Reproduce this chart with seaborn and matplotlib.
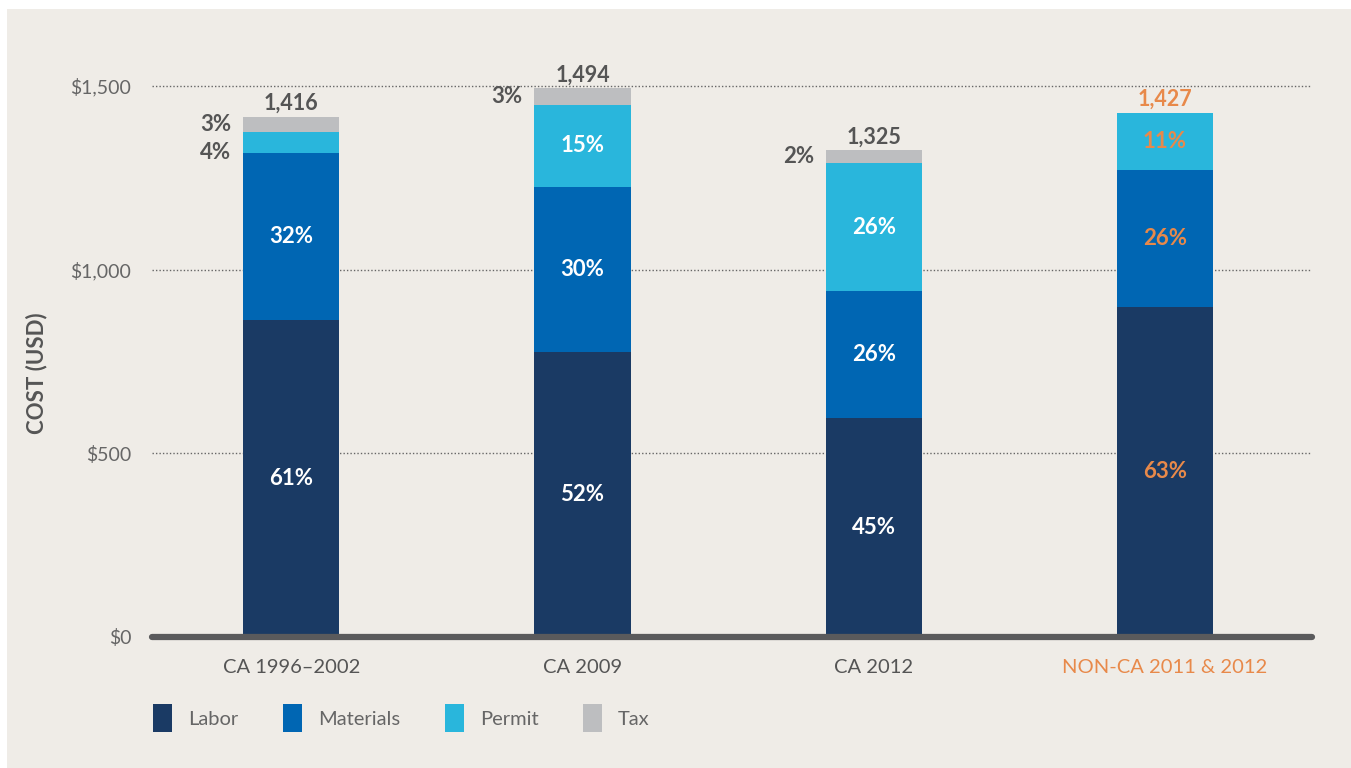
import numpy as np
import pandas as pd
import matplotlib.pyplot as plt
from matplotlib.patches import Patch, Rectangle
from matplotlib.ticker import FuncFormatter
import seaborn as sns

sns.set_style("white")
plt.rcParams["font.family"] = ["Lato", "DejaVu Sans"]

categories = ["CA 1996–2002", "CA 2009", "CA 2012", "NON-CA 2011 & 2012"]
labor = [864, 777, 596, 899]
materials = [453, 448, 346, 372]
permit = [57, 224, 348, 156]
tax = [42, 45, 35, 0]
totals = ["1,416", "1,494", "1,325", "1,427"]

pct_labor = ["61%", "52%", "45%", "63%"]
pct_materials = ["32%", "30%", "26%", "26%"]
pct_permit = ["4%", "15%", "26%", "11%"]
pct_tax = ["3%", "3%", "2%", ""]

series_names = ["Labor", "Materials", "Permit", "Tax"]
colors = ["#1A3A64", "#0066B3", "#29B6DC", "#BDBEC0"]
bg = "#EFECE7"
text_dark = "#555555"
orange = "#E8894A"
label_colors = ["white", "white", "white", orange]
total_colors = [text_dark, text_dark, text_dark, orange]

df = pd.DataFrame({"category": categories, "Labor": labor, "Materials": materials,
                   "Permit": permit, "Tax": tax})
stack = df[series_names].cumsum(axis=1)

fig = plt.figure(figsize=(13.51, 7.68), dpi=100, facecolor="white")
fig.patches.append(Rectangle((7 / 1351, 0), 1, (768 - 9) / 768, transform=fig.transFigure,
                             facecolor=bg, edgecolor="none", zorder=-10))
ax = fig.add_axes([152 / 1351, 131 / 768, (1312 - 152) / 1351, 1600 * 0.3673 / 768])
ax.set_facecolor(bg)

# stacked bars drawn from the top layer down
bar_w = 0.33
for name, color in zip(series_names[::-1], colors[::-1]):
    sns.barplot(x=df["category"], y=stack[name], color=color, width=bar_w,
                saturation=1, ax=ax, zorder=3, edgecolor="none")

ax.set_xlim(-0.478, 3.505)
ax.set_ylim(0, 1600)
ax.set_yticks([0, 500, 1000, 1500])
ax.yaxis.set_major_formatter(FuncFormatter(lambda v, p: f"${v:,.0f}"))
ax.yaxis.grid(True, linestyle=(0, (1, 1.5)), color="#666666", linewidth=1)
ax.set_axisbelow(True)
ax.axhline(0, color="#5A5A5C", linewidth=4.5, zorder=4, clip_on=False)
for s in ax.spines.values():
    s.set_visible(False)
ax.tick_params(axis="both", length=0, labelsize=14, labelcolor="#666666")
ax.tick_params(axis="x", labelsize=14.5, pad=16)
ax.tick_params(axis="y", pad=15)
ax.set_xlabel("")
ax.set_ylabel("COST (USD)", fontsize=16, fontweight="bold", color=text_dark)
ax.yaxis.set_label_coords(-0.090, 0.449)
for t, c in zip(ax.get_xticklabels(), total_colors):
    t.set_color(c)

# segment labels
pcts = [pct_labor, pct_materials, pct_permit, pct_tax]
seg_vals = [labor, materials, permit, tax]
for i in range(len(categories)):
    bottom = 0
    outside = []
    for k in range(4):
        h = seg_vals[k][i]
        if h > 0 and pcts[k][i]:
            mid = bottom + h / 2
            if h >= 100:
                ax.text(i, mid, pcts[k][i], ha="center", va="center", fontsize=16,
                        fontweight="bold", color=label_colors[i], zorder=5)
            else:
                outside.append([mid, pcts[k][i]])
        bottom += h
    # keep small outside labels from overlapping
    for j in range(len(outside) - 2, -1, -1):
        if outside[j + 1][0] - outside[j][0] < 75:
            outside[j][0] = outside[j + 1][0] - 75
    for y, s in outside:
        ax.text(i - bar_w / 2 - 0.04, y, s, ha="right", va="center",
                fontsize=16, fontweight="bold", color=text_dark, zorder=5)
    ax.annotate(totals[i], (i, bottom), xytext=(0, 2), textcoords="offset points",
                ha="center", va="bottom", fontsize=15.5, fontweight="bold",
                color=total_colors[i], zorder=5)

handles = [Patch(facecolor=c, edgecolor="none") for c in colors]
fig.legend(handles, series_names, loc="center left", bbox_to_anchor=(135 / 1351, 50 / 768),
           ncol=4, frameon=False, fontsize=14.5, handlelength=0.95, handleheight=1.7,
           handletextpad=0.8, columnspacing=2.2, labelcolor="#666666")

fig.savefig("out.png", dpi=100, facecolor=fig.get_facecolor())
